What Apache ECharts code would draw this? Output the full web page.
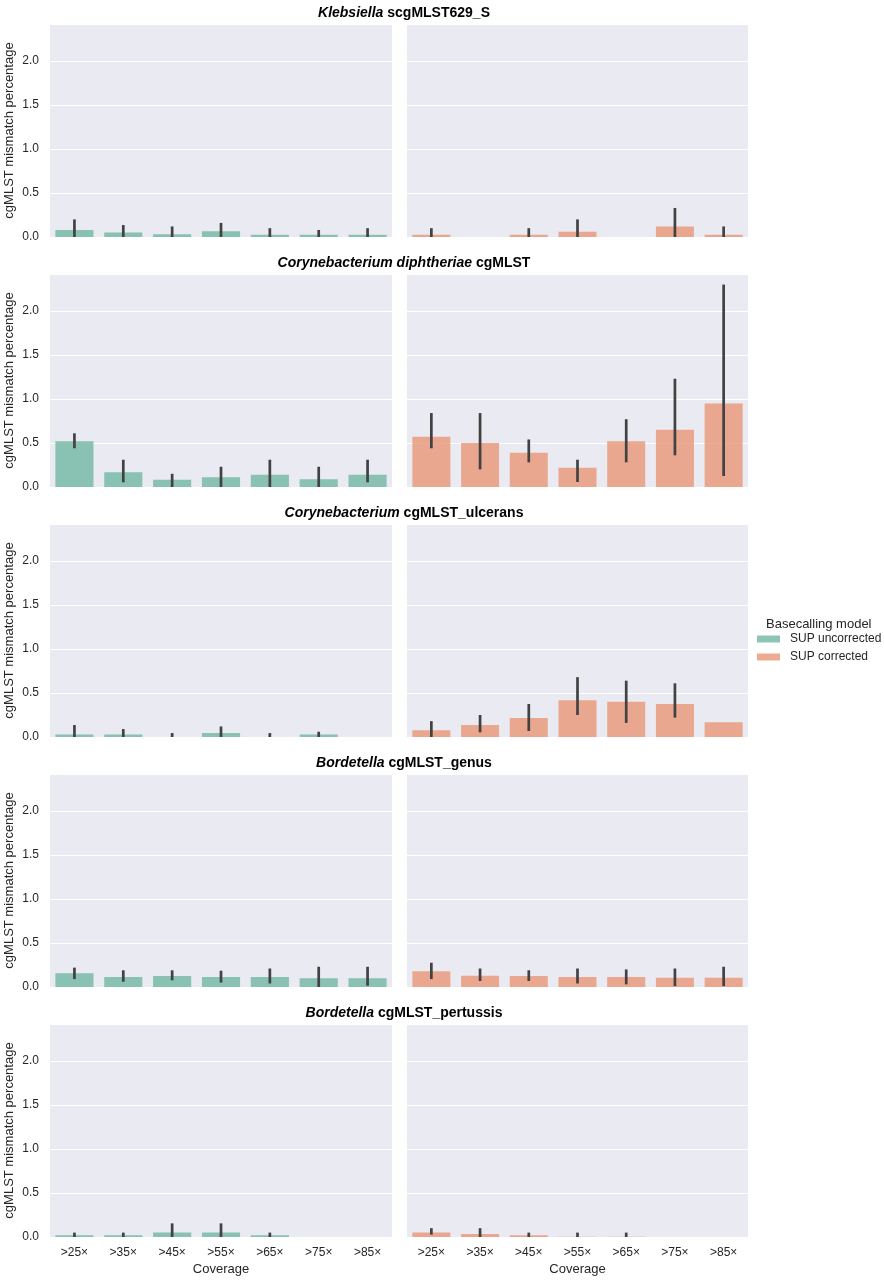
<!DOCTYPE html>
<html>
<head>
<meta charset="utf-8">
<script src="https://cdn.jsdelivr.net/npm/echarts@6/dist/echarts.min.js"></script>
<style>
html,body{margin:0;padding:0;background:#fff;}
#chart{width:884px;height:1280px;}
</style>
</head>
<body>
<div id="chart"></div>
<script>
// ---------- data ----------
var categories = ['>25×', '>35×', '>45×', '>55×', '>65×', '>75×', '>85×'];
var yTicks = [0, 0.5, 1.0, 1.5, 2.0];
var seriesNames = ['SUP uncorrected', 'SUP corrected'];
var panelGenus = ['Klebsiella', 'Corynebacterium diphtheriae', 'Corynebacterium', 'Bordetella', 'Bordetella'];
var panelScheme = ['scgMLST629_S', 'cgMLST', 'cgMLST_ulcerans', 'cgMLST_genus', 'cgMLST_pertussis'];

// Klebsiella scgMLST629_S
var klebUncMean = [0.08, 0.05, 0.03, 0.065, 0.025, 0.025, 0.025];
var klebUncLo   = [0, 0, 0, 0, 0, 0, 0];
var klebUncHi   = [0.20, 0.136, 0.12, 0.16, 0.10, 0.08, 0.10];
var klebCorMean = [0.025, 0, 0.025, 0.06, 0, 0.12, 0.025];
var klebCorLo   = [0, null, 0, 0, null, 0, 0];
var klebCorHi   = [0.10, null, 0.10, 0.20, null, 0.33, 0.12];

// Corynebacterium diphtheriae cgMLST
var diphUncMean = [0.52, 0.167, 0.083, 0.11, 0.14, 0.087, 0.14];
var diphUncLo   = [0.44, 0.053, 0, 0, 0, 0, 0.053];
var diphUncHi   = [0.61, 0.31, 0.15, 0.23, 0.31, 0.23, 0.31];
var diphCorMean = [0.57, 0.50, 0.39, 0.22, 0.52, 0.65, 0.95];
var diphCorLo   = [0.44, 0.20, 0.28, 0.057, 0.28, 0.36, 0.125];
var diphCorHi   = [0.84, 0.84, 0.54, 0.31, 0.77, 1.23, 2.30];

// Corynebacterium cgMLST_ulcerans
var ulcUncMean = [0.027, 0.027, 0, 0.045, 0, 0.027, 0];
var ulcUncLo   = [0, 0, 0, 0, 0, 0, null];
var ulcUncHi   = [0.136, 0.09, 0.045, 0.12, 0.045, 0.06, null];
var ulcCorMean = [0.076, 0.136, 0.216, 0.417, 0.40, 0.375, 0.167];
var ulcCorLo   = [0, 0.053, 0.068, 0.25, 0.16, 0.22, null];
var ulcCorHi   = [0.18, 0.25, 0.375, 0.68, 0.64, 0.61, null];

// Bordetella cgMLST_genus
var genUncMean = [0.155, 0.114, 0.125, 0.114, 0.114, 0.10, 0.10];
var genUncLo   = [0.09, 0.06, 0.076, 0.05, 0.04, 0, 0.015];
var genUncHi   = [0.22, 0.19, 0.19, 0.185, 0.21, 0.23, 0.23];
var genCorMean = [0.178, 0.129, 0.125, 0.114, 0.114, 0.106, 0.106];
var genCorLo   = [0.09, 0.068, 0.068, 0.04, 0.03, 0.01, 0.01];
var genCorHi   = [0.276, 0.21, 0.19, 0.21, 0.20, 0.21, 0.23];

// Bordetella cgMLST_pertussis
var pertUncMean = [0.019, 0.019, 0.05, 0.05, 0.019, 0, 0];
var pertUncLo   = [0, 0, 0, 0, 0, null, null];
var pertUncHi   = [0.05, 0.05, 0.155, 0.155, 0.05, null, null];
var pertCorMean = [0.05, 0.034, 0.019, 0.003, 0.003, 0, 0];
var pertCorLo   = [0.027, 0, 0, 0, 0, null, null];
var pertCorHi   = [0.10, 0.10, 0.05, 0.05, 0.05, null, null];

// ---------- build ----------
var panels = [
  [[klebUncMean, klebUncLo, klebUncHi], [klebCorMean, klebCorLo, klebCorHi]],
  [[diphUncMean, diphUncLo, diphUncHi], [diphCorMean, diphCorLo, diphCorHi]],
  [[ulcUncMean, ulcUncLo, ulcUncHi], [ulcCorMean, ulcCorLo, ulcCorHi]],
  [[genUncMean, genUncLo, genUncHi], [genCorMean, genCorLo, genCorHi]],
  [[pertUncMean, pertUncLo, pertUncHi], [pertCorMean, pertCorLo, pertCorHi]]
];
var colors = ['rgba(113,183,161,0.8)', 'rgba(233,150,117,0.8)'];
var FONT = '"Liberation Sans", Arial, sans-serif';
var TXT = '#262626';
var colLeft = [50, 407];
var colWidth = [342, 341];
var rowTop = [24, 274, 524, 774, 1024];
var plotH = 213;
var yMax = 2.42;

var grids = [], xAxes = [], yAxes = [], series = [], titles = [];
for (var r = 0; r < 5; r++) {
  titles.push({
    text: '{i|' + panelGenus[r] + '}{b| ' + panelScheme[r] + '}',
    left: 399, top: rowTop[r] - 23, textAlign: 'center',
    textStyle: {
      fontFamily: FONT,
      rich: {
        i: {fontStyle: 'italic', fontWeight: 'bold', fontSize: 14, color: '#000', fontFamily: FONT},
        b: {fontWeight: 'bold', fontSize: 14, color: '#000', fontFamily: FONT}
      }
    }
  });
  for (var c = 0; c < 2; c++) {
    var idx = r * 2 + c;
    var last = (r === 4);
    grids.push({left: colLeft[c], top: rowTop[r], width: colWidth[c], height: plotH,
      show: true, backgroundColor: '#eaeaf2', borderWidth: 0});
    xAxes.push({
      type: 'category', gridIndex: idx, data: categories,
      axisLine: {show: false}, axisTick: {show: false},
      axisLabel: {show: last, fontSize: 12, color: TXT, fontFamily: FONT, margin: 10},
      name: last ? 'Coverage' : '', nameLocation: 'middle', nameGap: 26,
      nameTextStyle: {fontSize: 13, color: TXT, fontFamily: FONT},
      splitLine: {show: false}
    });
    yAxes.push({
      type: 'value', gridIndex: idx, min: yTicks[0], max: yMax, interval: yTicks[1] - yTicks[0],
      axisLine: {show: false}, axisTick: {show: false},
      axisLabel: {show: c === 0, fontSize: 12, color: TXT, fontFamily: FONT, margin: 11,
        formatter: function (v) {
          for (var k = 0; k < yTicks.length; k++) { if (Math.abs(v - yTicks[k]) < 1e-9) return yTicks[k].toFixed(1); }
          return '';
        }},
      splitLine: {show: true, lineStyle: {color: '#ffffff', width: 1.2}},
      name: c === 0 ? 'cgMLST mismatch percentage' : '', nameLocation: 'middle', nameGap: 34, nameRotate: 90,
      nameTextStyle: {fontSize: 13, color: TXT, fontFamily: FONT}
    });
    var d = panels[r][c];
    series.push({
      type: 'bar', name: seriesNames[c], xAxisIndex: idx, yAxisIndex: idx,
      data: d[0], barCategoryGap: '22%',
      itemStyle: {color: colors[c]}, silent: true, animation: false
    });
    var err = [];
    for (var k = 0; k < categories.length; k++) {
      if (d[1][k] !== null && d[2][k] !== null) err.push([k, d[1][k], d[2][k]]);
    }
    series.push({
      type: 'custom', xAxisIndex: idx, yAxisIndex: idx, data: err, silent: true, animation: false,
      z: 5,
      renderItem: function (params, api) {
        var p1 = api.coord([api.value(0), api.value(1)]);
        var p2 = api.coord([api.value(0), api.value(2)]);
        return {type: 'line', shape: {x1: p1[0], y1: p1[1], x2: p2[0], y2: p2[1]},
          style: {stroke: '#424242', lineWidth: 2.7, lineCap: 'butt'}};
      }
    });
  }
}

var chart = echarts.init(document.getElementById('chart'), null, {renderer: 'canvas'});
chart.setOption({
  animation: false,
  title: titles,
  grid: grids, xAxis: xAxes, yAxis: yAxes, series: series,
  legend: {
    data: seriesNames, orient: 'vertical', left: 752, top: 633, itemWidth: 23, itemHeight: 7, itemGap: 6,
    padding: [0, 0, 0, 5],
    icon: 'rect', selectedMode: false,
    textStyle: {fontSize: 12, color: TXT, fontFamily: FONT, padding: [0, 0, 0, 5]}
  },
  graphic: [{
    type: 'text', left: 766, top: 618,
    style: {text: 'Basecalling model', fontSize: 13, fill: TXT, fontFamily: FONT}
  }]
});
</script>
</body>
</html>
